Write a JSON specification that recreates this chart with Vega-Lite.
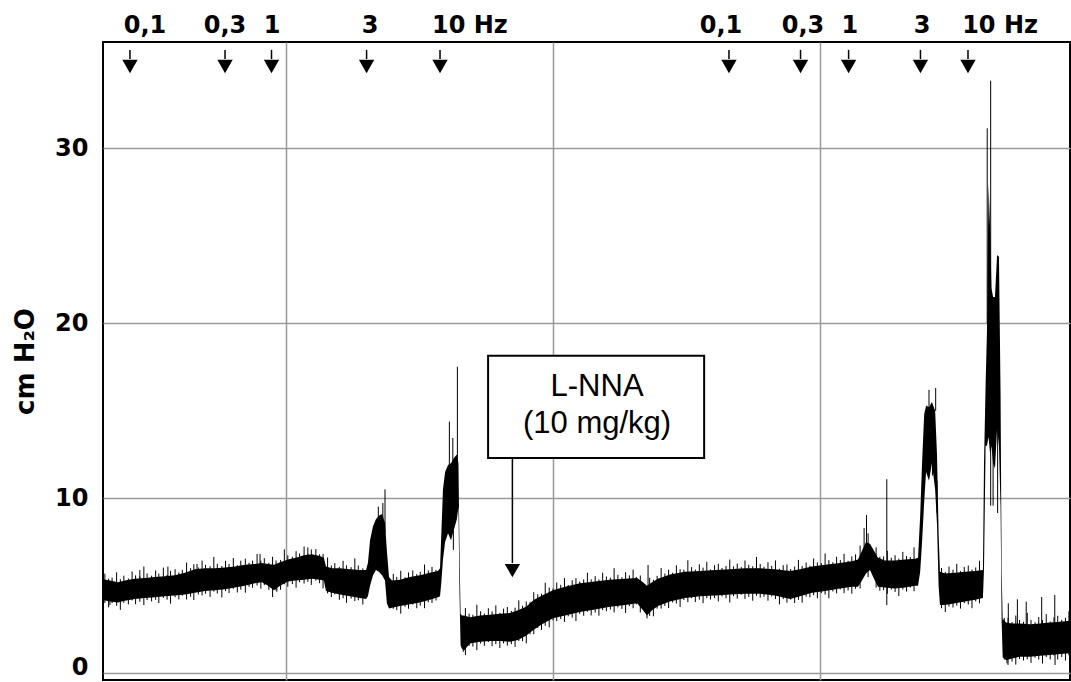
{
  "$schema": "https://vega.github.io/schema/vega-lite/v6.json",
  "width": 967,
  "height": 638,
  "autosize": "none",
  "padding": {"left": 103, "top": 42, "right": 1, "bottom": 2},
  "background": "white",
  "config": {"view": {"stroke": "black", "strokeWidth": 2}},
  "datasets": {
    "band": [
      {"t":3.15,"lo":4.19,"hi":5.37},{"t":3.41,"lo":4.1,"hi":5.3},{"t":3.71,"lo":4.05,"hi":5.2},{"t":3.97,"lo":4.15,"hi":5.3},
      {"t":4.34,"lo":4.25,"hi":5.4},{"t":4.72,"lo":4.3,"hi":5.45},{"t":5.09,"lo":4.35,"hi":5.5},{"t":5.47,"lo":4.4,"hi":5.55},
      {"t":5.84,"lo":4.45,"hi":5.6},{"t":6.22,"lo":4.5,"hi":5.75},{"t":6.59,"lo":4.6,"hi":5.95},{"t":6.97,"lo":4.7,"hi":6.0},
      {"t":7.34,"lo":4.75,"hi":6.0},{"t":7.72,"lo":4.8,"hi":6.05},{"t":8.09,"lo":4.9,"hi":6.1},{"t":8.46,"lo":5.0,"hi":6.2},
      {"t":8.84,"lo":5.15,"hi":6.25},{"t":9.10,"lo":5.2,"hi":6.3},{"t":9.33,"lo":5.0,"hi":6.25},{"t":9.55,"lo":4.75,"hi":6.2},
      {"t":9.78,"lo":5.0,"hi":6.35},{"t":10.07,"lo":5.25,"hi":6.5},{"t":10.37,"lo":5.3,"hi":6.6},{"t":10.67,"lo":5.35,"hi":6.75},
      {"t":10.97,"lo":5.4,"hi":6.8},{"t":11.27,"lo":5.35,"hi":6.7},{"t":11.42,"lo":5.3,"hi":6.6},{"t":11.50,"lo":4.7,"hi":6.1},
      {"t":11.72,"lo":4.6,"hi":6.0},{"t":12.02,"lo":4.5,"hi":6.0},{"t":12.40,"lo":4.4,"hi":5.95},{"t":12.77,"lo":4.3,"hi":5.9},
      {"t":13.00,"lo":4.25,"hi":5.9},{"t":13.07,"lo":4.4,"hi":6.3},{"t":13.15,"lo":5.0,"hi":7.6},{"t":13.26,"lo":5.6,"hi":8.4},
      {"t":13.37,"lo":5.9,"hi":8.8},{"t":13.48,"lo":5.8,"hi":9.0},{"t":13.60,"lo":5.6,"hi":9.1},{"t":13.71,"lo":5.3,"hi":8.6},
      {"t":13.78,"lo":4.0,"hi":7.0},{"t":13.86,"lo":3.7,"hi":5.5},{"t":13.97,"lo":3.75,"hi":5.3},{"t":14.27,"lo":3.85,"hi":5.35},
      {"t":14.64,"lo":3.95,"hi":5.5},{"t":15.02,"lo":4.05,"hi":5.6},{"t":15.39,"lo":4.2,"hi":5.75},{"t":15.69,"lo":4.35,"hi":5.85},
      {"t":15.77,"lo":4.4,"hi":6.0},{"t":15.82,"lo":5.2,"hi":8.0},{"t":15.88,"lo":6.5,"hi":10.5},{"t":15.96,"lo":7.5,"hi":11.5},
      {"t":16.07,"lo":8.0,"hi":11.9},{"t":16.18,"lo":7.6,"hi":12.0},{"t":16.29,"lo":8.2,"hi":12.3},{"t":16.40,"lo":8.8,"hi":12.5},
      {"t":16.46,"lo":9.5,"hi":12.0},{"t":16.50,"lo":4.5,"hi":7.0},{"t":16.54,"lo":1.6,"hi":3.4},{"t":16.59,"lo":1.4,"hi":3.3},
      {"t":16.67,"lo":1.3,"hi":3.3},{"t":16.89,"lo":1.7,"hi":3.2},{"t":17.27,"lo":1.8,"hi":3.3},{"t":17.64,"lo":1.85,"hi":3.35},
      {"t":18.01,"lo":1.85,"hi":3.4},{"t":18.39,"lo":1.8,"hi":3.45},{"t":18.69,"lo":1.9,"hi":3.6},{"t":18.99,"lo":2.15,"hi":3.8},
      {"t":19.29,"lo":2.5,"hi":4.2},{"t":19.59,"lo":2.8,"hi":4.45},{"t":20.00,"lo":3.15,"hi":4.75},{"t":20.45,"lo":3.3,"hi":4.95},
      {"t":21.01,"lo":3.5,"hi":5.15},{"t":21.57,"lo":3.65,"hi":5.25},{"t":22.13,"lo":3.8,"hi":5.35},{"t":22.70,"lo":3.9,"hi":5.4},
      {"t":23.15,"lo":4.0,"hi":5.45},{"t":23.37,"lo":3.6,"hi":5.2},{"t":23.52,"lo":3.3,"hi":5.0},{"t":23.71,"lo":3.6,"hi":5.2},
      {"t":23.93,"lo":3.85,"hi":5.4},{"t":24.38,"lo":4.1,"hi":5.65},{"t":24.94,"lo":4.3,"hi":5.8},{"t":25.51,"lo":4.4,"hi":5.85},
      {"t":26.07,"lo":4.45,"hi":5.9},{"t":26.63,"lo":4.5,"hi":5.95},{"t":27.19,"lo":4.55,"hi":6.0},{"t":27.75,"lo":4.55,"hi":6.0},
      {"t":28.31,"lo":4.45,"hi":5.95},{"t":28.88,"lo":4.25,"hi":5.85},{"t":29.25,"lo":4.4,"hi":5.95},{"t":29.70,"lo":4.6,"hi":6.1},
      {"t":30.19,"lo":4.7,"hi":6.2},{"t":30.75,"lo":4.85,"hi":6.3},{"t":31.20,"lo":4.95,"hi":6.4},{"t":31.42,"lo":4.95,"hi":6.5},
      {"t":31.57,"lo":5.3,"hi":7.0},{"t":31.72,"lo":5.7,"hi":7.5},{"t":31.87,"lo":5.9,"hi":7.4},{"t":32.02,"lo":5.4,"hi":7.0},
      {"t":32.17,"lo":4.95,"hi":6.6},{"t":32.43,"lo":4.9,"hi":6.45},{"t":32.81,"lo":4.85,"hi":6.45},{"t":33.18,"lo":4.9,"hi":6.5},
      {"t":33.56,"lo":5.0,"hi":6.55},{"t":33.67,"lo":5.0,"hi":6.6},{"t":33.75,"lo":5.8,"hi":9.0},{"t":33.82,"lo":7.5,"hi":12.0},
      {"t":33.90,"lo":9.8,"hi":14.8},{"t":33.97,"lo":11.5,"hi":15.3},{"t":34.08,"lo":11.0,"hi":15.2},{"t":34.19,"lo":12.0,"hi":15.5},
      {"t":34.31,"lo":10.5,"hi":15.0},{"t":34.38,"lo":8.5,"hi":12.5},{"t":34.44,"lo":5.0,"hi":8.0},{"t":34.49,"lo":3.9,"hi":5.8},
      {"t":34.68,"lo":3.9,"hi":5.7},{"t":35.06,"lo":4.0,"hi":5.75},{"t":35.43,"lo":4.1,"hi":5.8},{"t":35.81,"lo":4.2,"hi":5.85},
      {"t":36.10,"lo":4.3,"hi":5.9},{"t":36.14,"lo":6.0,"hi":12.0},{"t":36.20,"lo":13.0,"hi":16.5},{"t":36.25,"lo":13.0,"hi":19.5},
      {"t":36.31,"lo":13.5,"hi":28.0},{"t":36.37,"lo":12.5,"hi":25.3},{"t":36.42,"lo":13.0,"hi":22.0},{"t":36.48,"lo":12.0,"hi":21.5},
      {"t":36.55,"lo":11.7,"hi":21.5},{"t":36.63,"lo":14.0,"hi":23.9},{"t":36.70,"lo":13.0,"hi":23.8},{"t":36.76,"lo":9.5,"hi":16.0},
      {"t":36.80,"lo":3.0,"hi":6.0},{"t":36.84,"lo":0.9,"hi":3.0},{"t":36.85,"lo":0.9,"hi":3.1},{"t":36.97,"lo":0.75,"hi":2.9},
      {"t":37.19,"lo":0.85,"hi":2.85},{"t":37.49,"lo":0.95,"hi":2.85},{"t":37.87,"lo":0.95,"hi":2.8},{"t":38.24,"lo":1.0,"hi":2.85},
      {"t":38.61,"lo":1.05,"hi":2.9},{"t":38.99,"lo":1.1,"hi":2.95},{"t":39.36,"lo":1.15,"hi":3.0}
    ],
    "spikes": [
      {"t":3.41,"a":3.9,"b":4.6},{"t":4.53,"a":5.2,"b":5.9},{"t":5.58,"a":5.3,"b":6.1},{"t":6.67,"a":5.7,"b":6.25},
      {"t":9.03,"a":6.0,"b":6.82},{"t":9.66,"a":4.66,"b":5.4},{"t":10.82,"a":6.5,"b":7.2},
      {"t":13.46,"a":8.0,"b":9.52},{"t":13.63,"a":8.0,"b":9.73},{"t":13.71,"a":8.0,"b":10.51},
      {"t":16.12,"a":11.0,"b":14.38},{"t":16.25,"a":11.0,"b":13.45},{"t":16.42,"a":11.0,"b":17.52},{"t":16.27,"a":7.05,"b":9.0},
      {"t":16.64,"a":1.23,"b":2.0},{"t":23.52,"a":3.14,"b":4.0},{"t":23.56,"a":4.5,"b":6.19},
      {"t":31.5,"a":4.85,"b":7.3},{"t":31.8,"a":5.5,"b":8.0},{"t":32.1,"a":4.9,"b":7.2},
      {"t":31.65,"a":7.0,"b":8.3},{"t":31.74,"a":7.0,"b":9.05},{"t":32.50,"a":3.9,"b":11.09},
      {"t":34.08,"a":15.0,"b":16.2},{"t":34.33,"a":15.0,"b":16.3},{"t":34.21,"a":11.3,"b":12.5},{"t":34.38,"a":9.16,"b":11.0},
      {"t":36.26,"a":20.0,"b":31.14},{"t":36.39,"a":9.58,"b":33.86},{"t":36.48,"a":9.58,"b":13.0},{"t":36.65,"a":9.16,"b":14.0},
      {"t":37.00,"a":0.57,"b":1.2},{"t":37.05,"a":2.8,"b":4.0},{"t":37.39,"a":2.8,"b":4.23},{"t":37.72,"a":2.8,"b":4.1},
      {"t":38.30,"a":2.8,"b":4.36},{"t":38.79,"a":2.8,"b":4.48},{"t":38.80,"a":0.48,"b":1.2}
    ],
    "noise": [
      {"t":3.22,"a":4.02,"b":5.7},{"t":3.36,"a":3.77,"b":5.41},{"t":3.49,"a":4.01,"b":5.47},{"t":3.66,"a":3.86,"b":5.77},
      {"t":3.8,"a":3.63,"b":5.38},{"t":3.93,"a":4.03,"b":5.58},{"t":4.1,"a":3.94,"b":5.42},{"t":4.24,"a":4.17,"b":5.82},
      {"t":4.37,"a":3.95,"b":5.6},{"t":4.53,"a":4.09,"b":5.54},{"t":4.68,"a":3.9,"b":6.1},{"t":4.8,"a":4.19,"b":5.71},
      {"t":4.97,"a":4.11,"b":5.58},{"t":5.12,"a":4.2,"b":5.88},{"t":5.24,"a":4.02,"b":5.7},{"t":5.41,"a":4.31,"b":6.04},
      {"t":5.55,"a":4.21,"b":5.62},{"t":5.68,"a":3.98,"b":5.86},{"t":5.85,"a":4.35,"b":5.95},{"t":5.99,"a":4.22,"b":5.76},
      {"t":6.12,"a":4.44,"b":5.91},{"t":6.28,"a":4.22,"b":6.33},{"t":6.43,"a":4.38,"b":6.01},{"t":6.55,"a":4.19,"b":6.23},
      {"t":6.72,"a":4.51,"b":6.05},{"t":6.86,"a":4.45,"b":6.44},{"t":6.99,"a":4.55,"b":6.2},{"t":7.16,"a":4.37,"b":6.12},
      {"t":7.3,"a":4.67,"b":6.65},{"t":7.43,"a":4.56,"b":6.26},{"t":7.6,"a":4.33,"b":6.13},{"t":7.74,"a":4.7,"b":6.43},
      {"t":7.87,"a":4.59,"b":6.25},{"t":8.03,"a":4.83,"b":6.59},{"t":8.18,"a":4.62,"b":6.18},{"t":8.31,"a":4.78,"b":6.44},
      {"t":8.48,"a":4.61,"b":6.55},{"t":8.62,"a":4.94,"b":6.32},{"t":8.75,"a":4.89,"b":6.44},{"t":8.92,"a":5.02,"b":6.82},
      {"t":9.06,"a":4.84,"b":6.44},{"t":9.19,"a":5.04,"b":6.58},{"t":9.36,"a":4.77,"b":6.32},{"t":9.5,"a":4.36,"b":6.66},
      {"t":9.63,"a":4.74,"b":6.45},{"t":9.8,"a":4.77,"b":6.48},{"t":9.94,"a":5.09,"b":7.08},{"t":10.07,"a":4.95,"b":6.75},
      {"t":10.24,"a":5.1,"b":6.66},{"t":10.38,"a":4.9,"b":6.98},{"t":10.51,"a":5.21,"b":6.85},{"t":10.68,"a":5.13,"b":7.25},
      {"t":10.82,"a":5.23,"b":6.84},{"t":10.95,"a":5.05,"b":7.08},{"t":11.12,"a":5.3,"b":7.1},{"t":11.26,"a":5.15,"b":6.8},
      {"t":11.39,"a":4.86,"b":6.82},{"t":11.56,"a":4.57,"b":6.62},{"t":11.7,"a":4.36,"b":6.16},{"t":11.83,"a":4.51,"b":6.3},
      {"t":12.0,"a":4.2,"b":6.08},{"t":12.14,"a":4.29,"b":6.43},{"t":12.27,"a":4.03,"b":6.17},{"t":12.44,"a":4.27,"b":6.07},
      {"t":12.58,"a":4.13,"b":6.57},{"t":12.71,"a":4.17,"b":6.16},{"t":12.88,"a":3.93,"b":6.0},
      {"t":14.02,"a":3.69,"b":5.69},{"t":14.15,"a":3.61,"b":5.51},{"t":14.3,"a":3.41,"b":5.86},{"t":14.46,"a":3.8,"b":5.49},
      {"t":14.59,"a":3.69,"b":5.76},{"t":14.75,"a":3.93,"b":5.88},{"t":14.9,"a":3.72,"b":5.67},{"t":15.03,"a":3.87,"b":5.8},
      {"t":15.19,"a":3.72,"b":6.22},{"t":15.33,"a":4.06,"b":5.88},{"t":15.47,"a":4.02,"b":6.08},{"t":15.62,"a":4.16,"b":5.91},
      {"t":16.72,"a":1.04,"b":3.73},{"t":16.86,"a":1.57,"b":3.41},{"t":17.0,"a":1.53,"b":3.35},{"t":17.15,"a":1.32,"b":3.92},
      {"t":17.29,"a":1.7,"b":3.55},{"t":17.43,"a":1.57,"b":3.42},{"t":17.58,"a":1.79,"b":3.72},{"t":17.72,"a":1.55,"b":3.54},
      {"t":17.86,"a":1.67,"b":3.88},{"t":18.01,"a":1.45,"b":3.46},{"t":18.15,"a":1.71,"b":3.7},{"t":18.29,"a":1.59,"b":3.79},
      {"t":18.44,"a":1.67,"b":3.57},{"t":18.58,"a":1.51,"b":3.75},{"t":18.72,"a":1.85,"b":4.17},{"t":18.86,"a":1.84,"b":3.86},
      {"t":19.0,"a":1.71,"b":4.11},{"t":19.14,"a":2.23,"b":4.08},{"t":19.28,"a":2.24,"b":4.64},{"t":19.43,"a":2.59,"b":4.52},
      {"t":19.57,"a":2.48,"b":4.55},{"t":19.71,"a":2.72,"b":5.18},{"t":19.86,"a":2.63,"b":4.9},{"t":20.0,"a":3.03,"b":4.85},
      {"t":20.14,"a":2.98,"b":5.19},{"t":20.29,"a":3.1,"b":5.06},{"t":20.43,"a":2.94,"b":5.44},{"t":20.57,"a":3.26,"b":5.05},
      {"t":20.72,"a":3.19,"b":5.32},{"t":20.86,"a":2.99,"b":5.44},{"t":21.0,"a":3.4,"b":5.25},{"t":21.15,"a":3.29,"b":5.37},
      {"t":21.29,"a":3.52,"b":5.75},{"t":21.43,"a":3.31,"b":5.37},{"t":21.58,"a":3.47,"b":5.55},{"t":21.72,"a":3.29,"b":5.36},
      {"t":21.86,"a":3.61,"b":5.75},{"t":22.0,"a":3.55,"b":5.53},{"t":22.15,"a":3.65,"b":5.47},{"t":22.29,"a":3.48,"b":6.01},
      {"t":22.43,"a":3.77,"b":5.63},{"t":22.58,"a":3.68,"b":5.49},{"t":22.72,"a":3.45,"b":5.78},{"t":22.86,"a":3.84,"b":5.6},
      {"t":23.0,"a":3.72,"b":5.93},{"t":23.12,"a":3.94,"b":5.51},{"t":23.27,"a":3.48,"b":5.59},{"t":23.62,"a":3.28,"b":5.46},
      {"t":23.76,"a":3.26,"b":5.35},{"t":23.9,"a":3.7,"b":5.57},{"t":24.05,"a":3.7,"b":6.02},{"t":24.19,"a":3.85,"b":5.7},
      {"t":24.33,"a":3.73,"b":5.92},{"t":24.48,"a":4.05,"b":5.75},{"t":24.62,"a":3.99,"b":6.17},{"t":24.76,"a":3.79,"b":5.95},
      {"t":24.9,"a":4.19,"b":5.92},{"t":25.05,"a":4.07,"b":6.46},{"t":25.19,"a":4.29,"b":6.07},{"t":25.33,"a":4.07,"b":5.93},
      {"t":25.48,"a":4.21,"b":6.23},{"t":25.62,"a":4.01,"b":6.04},{"t":25.76,"a":4.3,"b":6.37},{"t":25.9,"a":4.22,"b":5.94},
      {"t":26.05,"a":4.3,"b":6.18},{"t":26.19,"a":4.11,"b":6.26},{"t":26.33,"a":4.39,"b":6.02},{"t":26.48,"a":4.29,"b":6.14},
      {"t":26.62,"a":4.05,"b":6.5},{"t":26.76,"a":4.41,"b":6.11},{"t":26.9,"a":4.27,"b":6.27},{"t":27.05,"a":4.49,"b":6.07},
      {"t":27.19,"a":4.25,"b":6.45},{"t":27.33,"a":4.37,"b":6.2},{"t":27.48,"a":4.15,"b":6.12},{"t":27.62,"a":4.43,"b":6.65},
      {"t":27.76,"a":4.33,"b":6.25},{"t":27.9,"a":4.37,"b":6.09},{"t":28.05,"a":4.15,"b":6.35},{"t":28.19,"a":4.39,"b":6.14},
      {"t":28.33,"a":4.24,"b":6.45},{"t":28.48,"a":3.94,"b":5.98},{"t":28.62,"a":4.24,"b":6.18},{"t":28.76,"a":4.04,"b":6.22},
      {"t":28.9,"a":4.21,"b":5.96},{"t":29.05,"a":4.02,"b":6.1},{"t":29.19,"a":4.2,"b":6.48},{"t":29.33,"a":4.04,"b":6.13},
      {"t":29.48,"a":4.38,"b":6.33},{"t":29.62,"a":4.34,"b":6.15},{"t":29.76,"a":4.46,"b":6.56},{"t":29.9,"a":4.29,"b":6.34},
      {"t":30.05,"a":4.59,"b":6.29},{"t":30.19,"a":4.5,"b":6.85},{"t":30.33,"a":4.29,"b":6.47},{"t":30.48,"a":4.68,"b":6.35},
      {"t":30.62,"a":4.57,"b":6.66},{"t":30.76,"a":4.8,"b":6.48},{"t":30.9,"a":4.58,"b":6.83},{"t":31.05,"a":4.74,"b":6.43},
      {"t":31.19,"a":4.55,"b":6.68},{"t":31.33,"a":4.83,"b":6.8},
      {"t":32.24,"a":4.72,"b":6.66},{"t":32.38,"a":4.76,"b":6.68},{"t":32.52,"a":4.54,"b":7.0},{"t":32.67,"a":4.79,"b":6.6},
      {"t":32.81,"a":4.65,"b":6.75},{"t":32.95,"a":4.42,"b":6.55},{"t":33.1,"a":4.79,"b":6.94},{"t":33.24,"a":4.67,"b":6.71},
      {"t":33.38,"a":4.9,"b":6.65},{"t":33.52,"a":4.69,"b":7.2},
      {"t":34.55,"a":3.72,"b":6.02},{"t":34.69,"a":3.5,"b":5.8},{"t":34.83,"a":3.82,"b":6.1},{"t":34.98,"a":3.76,"b":5.92},
      {"t":35.12,"a":3.87,"b":6.26},{"t":35.26,"a":3.7,"b":5.84},{"t":35.4,"a":4.01,"b":6.08},{"t":35.55,"a":3.93,"b":6.16},
      {"t":35.69,"a":3.72,"b":5.93},{"t":35.83,"a":4.11,"b":6.05},{"t":35.97,"a":4.0,"b":6.43},
      {"t":36.9,"a":0.79,"b":3.17},{"t":37.04,"a":0.48,"b":3.18},{"t":37.19,"a":0.67,"b":2.93},{"t":37.33,"a":0.5,"b":3.3},
      {"t":37.47,"a":0.82,"b":3.05},{"t":37.62,"a":0.73,"b":2.95},{"t":37.76,"a":0.8,"b":3.46},{"t":37.9,"a":0.6,"b":3.05},
      {"t":38.05,"a":0.89,"b":2.92},{"t":38.19,"a":0.79,"b":3.22},{"t":38.33,"a":0.56,"b":3.04},{"t":38.47,"a":0.93,"b":3.38},
      {"t":38.62,"a":0.8,"b":2.96},{"t":38.76,"a":1.02,"b":3.2},{"t":38.9,"a":0.79,"b":3.29},{"t":39.05,"a":0.93,"b":3.06},
      {"t":39.19,"a":0.73,"b":3.18},{"t":39.32,"a":1.03,"b":3.55}
    ],
    "arrows": [
      {"t":4.16,"top":35.62,"bot":35.1,"head":34.67},{"t":7.72,"top":35.62,"bot":35.1,"head":34.67},
      {"t":9.46,"top":35.62,"bot":35.1,"head":34.67},{"t":13.02,"top":35.62,"bot":35.1,"head":34.67},
      {"t":15.77,"top":35.62,"bot":35.1,"head":34.67},{"t":26.59,"top":35.62,"bot":35.1,"head":34.67},
      {"t":29.27,"top":35.62,"bot":35.1,"head":34.67},{"t":31.07,"top":35.62,"bot":35.1,"head":34.67},
      {"t":33.76,"top":35.62,"bot":35.1,"head":34.67},{"t":35.54,"top":35.62,"bot":35.1,"head":34.67},
      {"t":18.48,"top":12.3,"bot":6.3,"head":5.87}
    ],
    "labels": [
      {"t":4.72,"y":36.57,"text":"0,1"},{"t":7.72,"y":36.57,"text":"0,3"},{"t":9.48,"y":36.57,"text":"1"},
      {"t":13.15,"y":36.57,"text":"3"},{"t":16.89,"y":36.57,"text":"10 Hz"},
      {"t":26.29,"y":36.57,"text":"0,1"},{"t":29.36,"y":36.57,"text":"0,3"},{"t":31.12,"y":36.57,"text":"1"},
      {"t":33.82,"y":36.57,"text":"3"},{"t":36.74,"y":36.57,"text":"10 Hz"}
    ],
    "box": [{"x1":17.57,"x2":25.66,"y1":12.3,"y2":18.15}],
    "boxtext": [
      {"t":21.65,"y":15.85,"text":"L-NNA"},
      {"t":21.65,"y":13.73,"text":"(10 mg/kg)"}
    ]
  },
  "layer": [
    {
      "data": {"name": "band"},
      "mark": {"type": "area", "color": "black", "interpolate": "linear", "opacity": 1},
      "encoding": {
        "x": {"field": "t", "type": "quantitative",
          "scale": {"domain": [3.15, 39.36], "nice": false, "zero": false},
          "axis": {"values": [10, 20, 30], "labels": false, "ticks": false, "domain": false, "grid": true,
                   "gridColor": "#9a9a9a", "gridWidth": 1.5, "title": null}},
        "y": {"field": "lo", "type": "quantitative",
          "scale": {"domain": [-0.38, 36.07], "nice": false, "zero": false},
          "axis": {"values": [0, 10, 20, 30], "ticks": false, "domain": false, "grid": true,
                   "gridColor": "#9a9a9a", "gridWidth": 1.5,
                   "labelFont": "DejaVu Sans", "labelFontWeight": "bold", "labelFontSize": 24, "labelColor": "black",
                   "labelPadding": 15,
                   "labelOffset": {"condition": {"test": "datum.value === 0", "value": -6}, "value": 0},
                   "title": "cm H₂O", "titleFont": "DejaVu Sans", "titleFontWeight": "bold", "titleFontSize": 26,
                   "titleColor": "black", "titlePadding": 16}},
        "y2": {"field": "hi"}
      }
    },
    {
      "data": {"name": "noise"},
      "mark": {"type": "rule", "color": "black", "strokeWidth": 1},
      "encoding": {
        "x": {"field": "t", "type": "quantitative"},
        "y": {"field": "a", "type": "quantitative"},
        "y2": {"field": "b"}
      }
    },
    {
      "data": {"name": "spikes"},
      "mark": {"type": "rule", "color": "black", "strokeWidth": 1},
      "encoding": {
        "x": {"field": "t", "type": "quantitative"},
        "y": {"field": "a", "type": "quantitative"},
        "y2": {"field": "b"}
      }
    },
    {
      "data": {"name": "box"},
      "mark": {"type": "rect", "fill": "white", "stroke": "black", "strokeWidth": 2},
      "encoding": {
        "x": {"field": "x1", "type": "quantitative"},
        "x2": {"field": "x2"},
        "y": {"field": "y1", "type": "quantitative"},
        "y2": {"field": "y2"}
      }
    },
    {
      "data": {"name": "boxtext"},
      "mark": {"type": "text", "font": "Liberation Sans", "fontSize": 31, "color": "black", "align": "center", "baseline": "alphabetic"},
      "encoding": {
        "x": {"field": "t", "type": "quantitative"},
        "y": {"field": "y", "type": "quantitative"},
        "text": {"field": "text"}
      }
    },
    {
      "data": {"name": "arrows"},
      "mark": {"type": "rule", "color": "black", "strokeWidth": 1.5},
      "encoding": {
        "x": {"field": "t", "type": "quantitative"},
        "y": {"field": "top", "type": "quantitative"},
        "y2": {"field": "bot"}
      }
    },
    {
      "data": {"name": "arrows"},
      "mark": {"type": "point", "shape": "triangle-down", "filled": true, "color": "black", "size": 235, "opacity": 1, "strokeWidth": 0},
      "encoding": {
        "x": {"field": "t", "type": "quantitative"},
        "y": {"field": "head", "type": "quantitative"}
      }
    },
    {
      "data": {"name": "labels"},
      "mark": {"type": "text", "font": "DejaVu Sans", "fontWeight": "bold", "fontSize": 24, "color": "black", "align": "center", "baseline": "alphabetic"},
      "encoding": {
        "x": {"field": "t", "type": "quantitative"},
        "y": {"field": "y", "type": "quantitative"},
        "text": {"field": "text"}
      }
    }
  ]
}
